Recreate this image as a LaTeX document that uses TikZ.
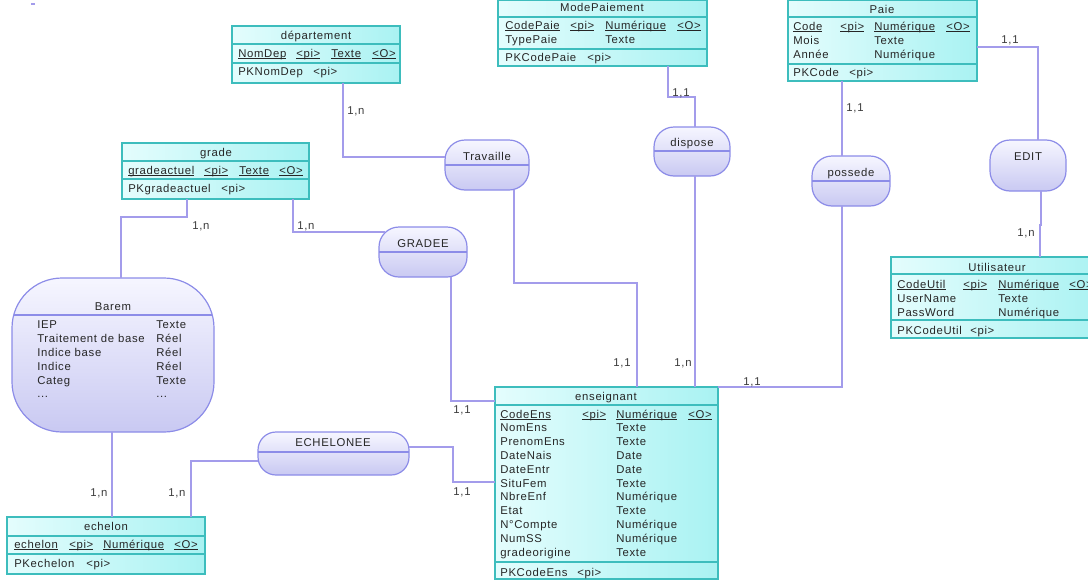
\documentclass[tikz,border=0pt]{standalone}
\usepackage{fontspec}
\setmainfont[LetterSpace=6]{Liberation Sans}
\usetikzlibrary{calc,fit}
\definecolor{entborder}{HTML}{3DBDBD}
\definecolor{entlight}{HTML}{E4FDFD}
\definecolor{entdark}{HTML}{A9F2F2}
\definecolor{relborder}{HTML}{8C8CE8}
\definecolor{rellight}{HTML}{F6F6FF}
\definecolor{reldark}{HTML}{C9C9F2}
\definecolor{connc}{HTML}{A39CEB}
\definecolor{txtc}{HTML}{262626}
\newsavebox\ulbox
\newcommand\myul[1]{\sbox\ulbox{#1}\rlap{\rule[-1.6pt]{\wd\ulbox}{0.5pt}}\usebox\ulbox}
\begin{document}
\begin{tikzpicture}[x=0.75pt,y=-0.75pt,
  ent/.style={draw=entborder, line width=1pt, left color=entlight, right color=entdark, inner sep=0pt, outer sep=0pt},
  sepl/.style={draw=entborder, line width=0.8pt},
  rel/.style={draw=relborder, line width=0.9pt, top color=rellight, bottom color=reldark, inner sep=0pt, outer sep=0pt, rounded corners=15pt},
  rsep/.style={draw=relborder, line width=0.8pt},
  conn/.style={draw=connc, line width=1pt},
  tx/.style={font=\fontsize{8.5}{10}\selectfont, text=txtc, inner sep=0pt, anchor=base west},
  tc/.style={tx, anchor=base},
  cardlbl/.style={tx, anchor=base, text=txtc!90},
]
\fill[white] (0,0) rectangle (1088,582);
\useasboundingbox (0,0) rectangle (1088,582);
\draw[conn] (31,4) -- (35,4);

% ---------- entities ----------
\node[ent, fit={(232,26)(400,83)}] (dep) {};
\draw[sepl] ($(dep.north west)+(0,18)$) -- ($(dep.north east)+(0,18)$);
\draw[sepl] ($(dep.north west)+(0,37)$) -- ($(dep.north east)+(0,37)$);
\node[tc] (depT) at (316,39) {département};
\node[tx] (depA1) at (238,57) {\myul{NomDep}};
\node[tx] (depA2) at (296,57) {\myul{<pi>}};
\node[tx] (depA3) at (331,57) {\myul{Texte}};
\node[tx] (depA4) at (372,57) {\myul{<O>}};
\node[tx] (depP1) at (238,75) {PKNomDep};
\node[tx] (depP2) at (313,75) {<pi>};

\node[ent, fit={(122,143)(309,199)}] (grade) {};
\draw[sepl] ($(grade.north west)+(0,18)$) -- ($(grade.north east)+(0,18)$);
\draw[sepl] ($(grade.north west)+(0,36)$) -- ($(grade.north east)+(0,36)$);
\node[tc] (grT) at (216,156) {grade};
\node[tx] (grA1) at (128,174) {\myul{gradeactuel}};
\node[tx] (grA2) at (204,174) {\myul{<pi>}};
\node[tx] (grA3) at (239,174) {\myul{Texte}};
\node[tx] (grA4) at (279,174) {\myul{<O>}};
\node[tx] (grP1) at (128,192) {PKgradeactuel};
\node[tx] (grP2) at (221,192) {<pi>};

\node[ent, fit={(498,0)(707,66)}] (mp) {};
\draw[sepl] ($(mp.north west)+(0,17)$) -- ($(mp.north east)+(0,17)$);
\draw[sepl] ($(mp.north west)+(0,49)$) -- ($(mp.north east)+(0,49)$);
\node[tc] (mpT) at (602,11) {ModePaiement};
\node[tx] (mpA1) at (505,29) {\myul{CodePaie}};
\node[tx] (mpA2) at (570,29) {\myul{<pi>}};
\node[tx] (mpA3) at (605,29) {\myul{Numérique}};
\node[tx] (mpA4) at (677,29) {\myul{<O>}};
\node[tx] (mpB1) at (505,43) {TypePaie};
\node[tx] (mpB3) at (605,43) {Texte};
\node[tx] (mpP1) at (505,61) {PKCodePaie};
\node[tx] (mpP2) at (587,61) {<pi>};

\node[ent, fit={(788,0)(977,81)}] (paie) {};
\draw[sepl] ($(paie.north west)+(0,17)$) -- ($(paie.north east)+(0,17)$);
\draw[sepl] ($(paie.north west)+(0,64)$) -- ($(paie.north east)+(0,64)$);
\node[tc] (paT) at (882,13) {Paie};
\node[tx] (paA1) at (793,30) {\myul{Code}};
\node[tx] (paA2) at (840,30) {\myul{<pi>}};
\node[tx] (paA3) at (874,30) {\myul{Numérique}};
\node[tx] (paA4) at (946,30) {\myul{<O>}};
\node[tx] (paB1) at (793,44) {Mois};
\node[tx] (paB3) at (874,44) {Texte};
\node[tx] (paC1) at (793,58) {Année};
\node[tx] (paC3) at (874,58) {Numérique};
\node[tx] (paP1) at (793,76) {PKCode};
\node[tx] (paP2) at (849,76) {<pi>};

\node[ent, fit={(891,257)(1103,338)}] (util) {};
\draw[sepl] ($(util.north west)+(0,17)$) -- ($(util.north east)+(0,17)$);
\draw[sepl] ($(util.north west)+(0,63)$) -- ($(util.north east)+(0,63)$);
\node[tc] (utT) at (997,271) {Utilisateur};
\node[tx] (utA1) at (897,288) {\myul{CodeUtil}};
\node[tx] (utA2) at (963,288) {\myul{<pi>}};
\node[tx] (utA3) at (998,288) {\myul{Numérique}};
\node[tx] (utA4) at (1069,288) {\myul{<O>}};
\node[tx] (utB1) at (897,302) {UserName};
\node[tx] (utB3) at (998,302) {Texte};
\node[tx] (utC1) at (897,316) {PassWord};
\node[tx] (utC3) at (998,316) {Numérique};
\node[tx] (utP1) at (897,334) {PKCodeUtil};
\node[tx] (utP2) at (970,334) {<pi>};

\node[ent, fit={(495,387)(718,579)}] (ens) {};
\draw[sepl] ($(ens.north west)+(0,18)$) -- ($(ens.north east)+(0,18)$);
\draw[sepl] ($(ens.north west)+(0,175)$) -- ($(ens.north east)+(0,175)$);
\node[tc] (ensT) at (606,400) {enseignant};
\node[tx] (ensA1) at (500,418) {\myul{CodeEns}};
\node[tx] (ensA2) at (582,418) {\myul{<pi>}};
\node[tx] (ensA3) at (616,418) {\myul{Numérique}};
\node[tx] (ensA4) at (688,418) {\myul{<O>}};
\foreach \nm/\ty [count=\i] in {NomEns/Texte, PrenomEns/Texte, DateNais/Date, DateEntr/Date, SituFem/Texte, NbreEnf/Numérique, Etat/Texte, N°Compte/Numérique, NumSS/Numérique, gradeorigine/Texte}{
  \node[tx] (ensN\i) at (500,{418+13.8*\i}) {\nm};
  \node[tx] (ensY\i) at (616,{418+13.8*\i}) {\ty};
}
\node[tx] (ensP1) at (500,576) {PKCodeEns};
\node[tx] (ensP2) at (577,576) {<pi>};

\node[ent, fit={(7,517)(205,574)}] (ech) {};
\draw[sepl] ($(ech.north west)+(0,19)$) -- ($(ech.north east)+(0,19)$);
\draw[sepl] ($(ech.north west)+(0,37)$) -- ($(ech.north east)+(0,37)$);
\node[tc] (echT) at (106,530) {echelon};
\node[tx] (echA1) at (14,548) {\myul{echelon}};
\node[tx] (echA2) at (69,548) {\myul{<pi>}};
\node[tx] (echA3) at (103,548) {\myul{Numérique}};
\node[tx] (echA4) at (174,548) {\myul{<O>}};
\node[tx] (echP1) at (14,567) {PKechelon};
\node[tx] (echP2) at (86,567) {<pi>};

% ---------- Barem ----------
\node[rel, rounded corners=37.5pt, fit={(12,278)(214,432)}] (barem) {};
\draw[rsep] ($(barem.north west)+(1.7,37)$) -- ($(barem.north east)+(-1.7,37)$);
\node[tc] (baT) at (113,310) {Barem};
\foreach \nm/\ty [count=\i] in {IEP/Texte, Traitement de base/Réel, Indice base/Réel, Indice/Réel, Categ/Texte}{
  \node[tx] (baN\i) at (37,{314+14*\i}) {\nm};
  \node[tx] (baY\i) at (156,{314+14*\i}) {\ty};
}
\node[tx] (baN6) at (37,397) {...};
\node[tx] (baY6) at (156,397) {...};

% ---------- relations ----------
\node[rel, fit={(445,140)(529,190)}] (trav) {};
\draw[rsep] ($(trav.north west)+(0,25)$) -- ($(trav.north east)+(0,25)$);
\node[tc] (travT) at (487,160) {Travaille};

\node[rel, fit={(654,127)(730,176)}] (disp) {};
\draw[rsep] ($(disp.north west)+(0,24)$) -- ($(disp.north east)+(0,24)$);
\node[tc] (dispT) at (692,146) {dispose};

\node[rel, fit={(812,156)(890,206)}] (poss) {};
\draw[rsep] ($(poss.north west)+(0,25)$) -- ($(poss.north east)+(0,25)$);
\node[tc] (possT) at (851,176) {possede};

\node[rel, fit={(990,140)(1066,191)}] (edit) {};
\node[tc] (editT) at (1028,160) {EDIT};

\node[rel, fit={(379,227)(467,277)}] (gradee) {};
\draw[rsep] ($(gradee.north west)+(0,25)$) -- ($(gradee.north east)+(0,25)$);
\node[tc] (gradeeT) at (423,247) {GRADEE};

\node[rel, rounded corners=13.5pt, fit={(258,432)(409,475)}] (echn) {};
\draw[rsep] ($(echn.north west)+(0,20)$) -- ($(echn.north east)+(0,20)$);
\node[tc] (echnT) at (333,446) {ECHELONEE};

% ---------- connectors ----------
\draw[conn] ($(dep.south west)+(111,0)$) |- ($(trav.north west)+(0,17)$);
\draw[conn] ($(trav.south west)+(69,0)$) -- ++(0,93) -| ($(ens.north west)+(142,0)$);
\draw[conn] ($(mp.south west)+(170,0)$) -- ++(0,31) -| ($(disp.north west)+(41,0)$);
\draw[conn] ($(disp.south west)+(41,0)$) -- ($(ens.north west)+(200,0)$);
\draw[conn] ($(paie.south west)+(54,0)$) -- ($(poss.north west)+(30,0)$);
\draw[conn] ($(poss.south west)+(30,0)$) |- (ens.north east);
\draw[conn] ($(paie.north east)+(0,47)$) -| ($(edit.north west)+(48,0)$);
\draw[conn] ($(edit.south west)+(51,0)$) -- ++(0,34) -- ++(-1,0) -- ($(util.north west)+(149,0)$);
\draw[conn] ($(grade.south west)+(65,0)$) -- ++(0,18) -| ($(barem.north west)+(109,0)$);
\draw[conn] ($(grade.south west)+(171,0)$) |- ($(gradee.north west)+(6,5)$);
\draw[conn] ($(gradee.south west)+(72,0)$) |- ($(ens.north west)+(0,14)$);
\draw[conn] ($(barem.south west)+(100,0)$) -- ($(ech.north west)+(105,0)$);
\draw[conn] ($(echn.north west)+(0,29)$) -| ($(ech.north west)+(184,0)$);
\draw[conn] ($(echn.north east)+(0,15)$) -- ++(44,0) |- ($(ens.north west)+(0,95)$);

% ---------- cardinalities ----------
\node[cardlbl] (c1) at (356,114) {1,n};
\node[cardlbl] (c2) at (622,366) {1,1};
\node[cardlbl] (c3) at (683,366) {1,n};
\node[cardlbl] (c4) at (752,385) {1,1};
\node[cardlbl] (c5) at (462,413) {1,1};
\node[cardlbl] (c6) at (681,96) {1,1};
\node[cardlbl] (c7) at (855,111) {1,1};
\node[cardlbl] (c8) at (1010,43) {1,1};
\node[cardlbl] (c9) at (1026,236) {1,n};
\node[cardlbl] (c10) at (201,229) {1,n};
\node[cardlbl] (c11) at (306,229) {1,n};
\node[cardlbl] (c12) at (99,496) {1,n};
\node[cardlbl] (c13) at (177,496) {1,n};
\node[cardlbl] (c14) at (462,495) {1,1};
\end{tikzpicture}
\end{document}
